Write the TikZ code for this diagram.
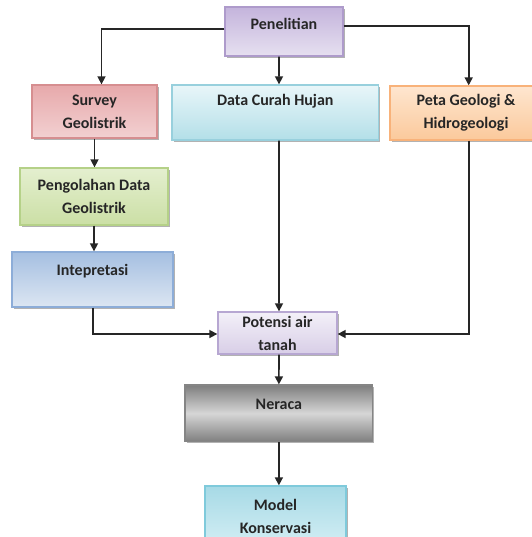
\documentclass[tikz,border=0pt]{standalone}
\usepackage{fontspec}
\setmainfont{Carlito}
\usetikzlibrary{arrows.meta,calc,shadows}

\definecolor{penA}{HTML}{C4B4DC}
\definecolor{penB}{HTML}{E6E0F0}
\definecolor{penL}{HTML}{AE9BCB}
\definecolor{surA}{HTML}{E7A9AB}
\definecolor{surB}{HTML}{F2D0D1}
\definecolor{surL}{HTML}{D68E90}
\definecolor{datA}{HTML}{E9F6F9}
\definecolor{datB}{HTML}{B3DFE8}
\definecolor{datL}{HTML}{98D0DD}
\definecolor{petA}{HTML}{FEE6D0}
\definecolor{petB}{HTML}{FBC99B}
\definecolor{petL}{HTML}{F8B27A}
\definecolor{pngA}{HTML}{E4EFCF}
\definecolor{pngB}{HTML}{CBDFA5}
\definecolor{pngL}{HTML}{B5D188}
\definecolor{intA}{HTML}{A5BFE1}
\definecolor{intB}{HTML}{DCE6F2}
\definecolor{intL}{HTML}{8DADD8}
\definecolor{potA}{HTML}{F3F0F8}
\definecolor{potB}{HTML}{D8CEE7}
\definecolor{potL}{HTML}{B7A7D2}
\definecolor{nerA}{HTML}{7E7E7E}
\definecolor{nerB}{HTML}{D6D6D6}
\definecolor{nerL}{HTML}{858585}
\definecolor{modA}{HTML}{A7DAE6}
\definecolor{modB}{HTML}{D3EEF4}
\definecolor{modL}{HTML}{7FCADB}

\tikzset{
  bx/.style={draw, line width=1pt, align=center, inner sep=2pt,
    font=\fontsize{12}{17.25}\selectfont\bfseries, text=black!85,
    drop shadow={shadow xshift=1.2pt, shadow yshift=-1.2pt, opacity=0.3, fill=black}},
  toptext/.style={text height=9pt, text depth=#1},
  arr/.style={line width=1.2pt, draw=black!85, -{Triangle[length=6pt,width=6pt]}},
}

\begin{document}
\begin{tikzpicture}[x=0.75pt,y=0.75pt,yscale=-1]
  \useasboundingbox (0,0) rectangle (532,537);

  %Shape: Rectangle
  \draw (284,31.5) node [bx, toptext=12pt, draw=penL, top color=penA, bottom color=penB,
    minimum width=88.5pt, minimum height=36.75pt] (pen) {Penelitian};
  %Shape: Rectangle
  \draw (94.5,111.5) node [bx, draw=surL, top color=surA, bottom color=surB,
    minimum width=93.75pt, minimum height=39.75pt] (surv) {Survey\\Geolistrik};
  %Shape: Rectangle
  \draw (275.3,112.5) node [bx, toptext=20pt, draw=datL, top color=datA, bottom color=datB,
    minimum width=155pt, minimum height=41.25pt] (dat) {Data Curah Hujan};
  %Shape: Rectangle
  \draw (466,113) node [bx, draw=petL, top color=petA, bottom color=petB,
    minimum width=114pt, minimum height=40.5pt] (peta) {Peta Geologi \&\\Hidrogeologi};
  %Shape: Rectangle
  \draw (94,196.5) node [bx, draw=pngL, top color=pngA, bottom color=pngB,
    minimum width=111pt, minimum height=42.75pt] (peng) {Pengolahan Data\\Geolistrik};
  %Shape: Rectangle
  \draw (92.5,279.5) node [bx, toptext=15.5pt, draw=intL, top color=intA, bottom color=intB,
    minimum width=120.75pt, minimum height=41.25pt] (intp) {Intepretasi};
  %Shape: Rectangle
  \draw (277.5,333) node [bx, draw=potL, top color=potA, bottom color=potB,
    minimum width=89.25pt, minimum height=31.5pt] (pot) {Potensi air\\tanah};
  %Shape: Rectangle
  \draw (278.9,413.4) node [bx, toptext=15.5pt, draw=nerL, top color=nerA, bottom color=nerA, middle color=nerB,
    minimum width=140.8pt, minimum height=42.5pt] (ner) {Neraca};
  %Shape: Rectangle
  \draw (275.5,516) node [bx, draw=modL, top color=modA, bottom color=modB,
    minimum width=105.75pt, minimum height=45pt] (mod) {Model\\Konservasi};

  %Straight Lines
  \draw [arr] ($(pen.west)+(0,-2.5)$) -| ($(surv.north)+(7,0)$);
  %Straight Lines
  \draw [arr] ($(pen.south)+(-5,0)$) -- ($(dat.north)+(3.7,0)$);
  %Straight Lines
  \draw [arr] ($(pen.east)+(0,-5.5)$) -| ($(peta.north)+(2.7,0)$);
  %Straight Lines
  \draw [arr] (surv.south) -- (surv.south |- peng.north);
  %Straight Lines
  \draw [arr] (peng.south) -- (peng.south |- intp.north);
  %Straight Lines
  \draw [arr] ($(intp.south)+(0.5,0)$) |- ($(pot.west)+(0,1)$);
  %Straight Lines
  \draw [arr] ($(dat.south)+(3.7,0)$) -- ($(pot.north)+(1.5,0)$);
  %Straight Lines
  \draw [arr] ($(peta.south)+(2.7,0)$) |- ($(pot.east)+(0,1)$);
  %Straight Lines
  \draw [arr] ($(pot.south)+(1.5,0)$) -- (ner.north);
  %Straight Lines
  \draw [arr] (ner.south) -- ($(mod.north)+(3.4,0)$);
\end{tikzpicture}
\end{document}
